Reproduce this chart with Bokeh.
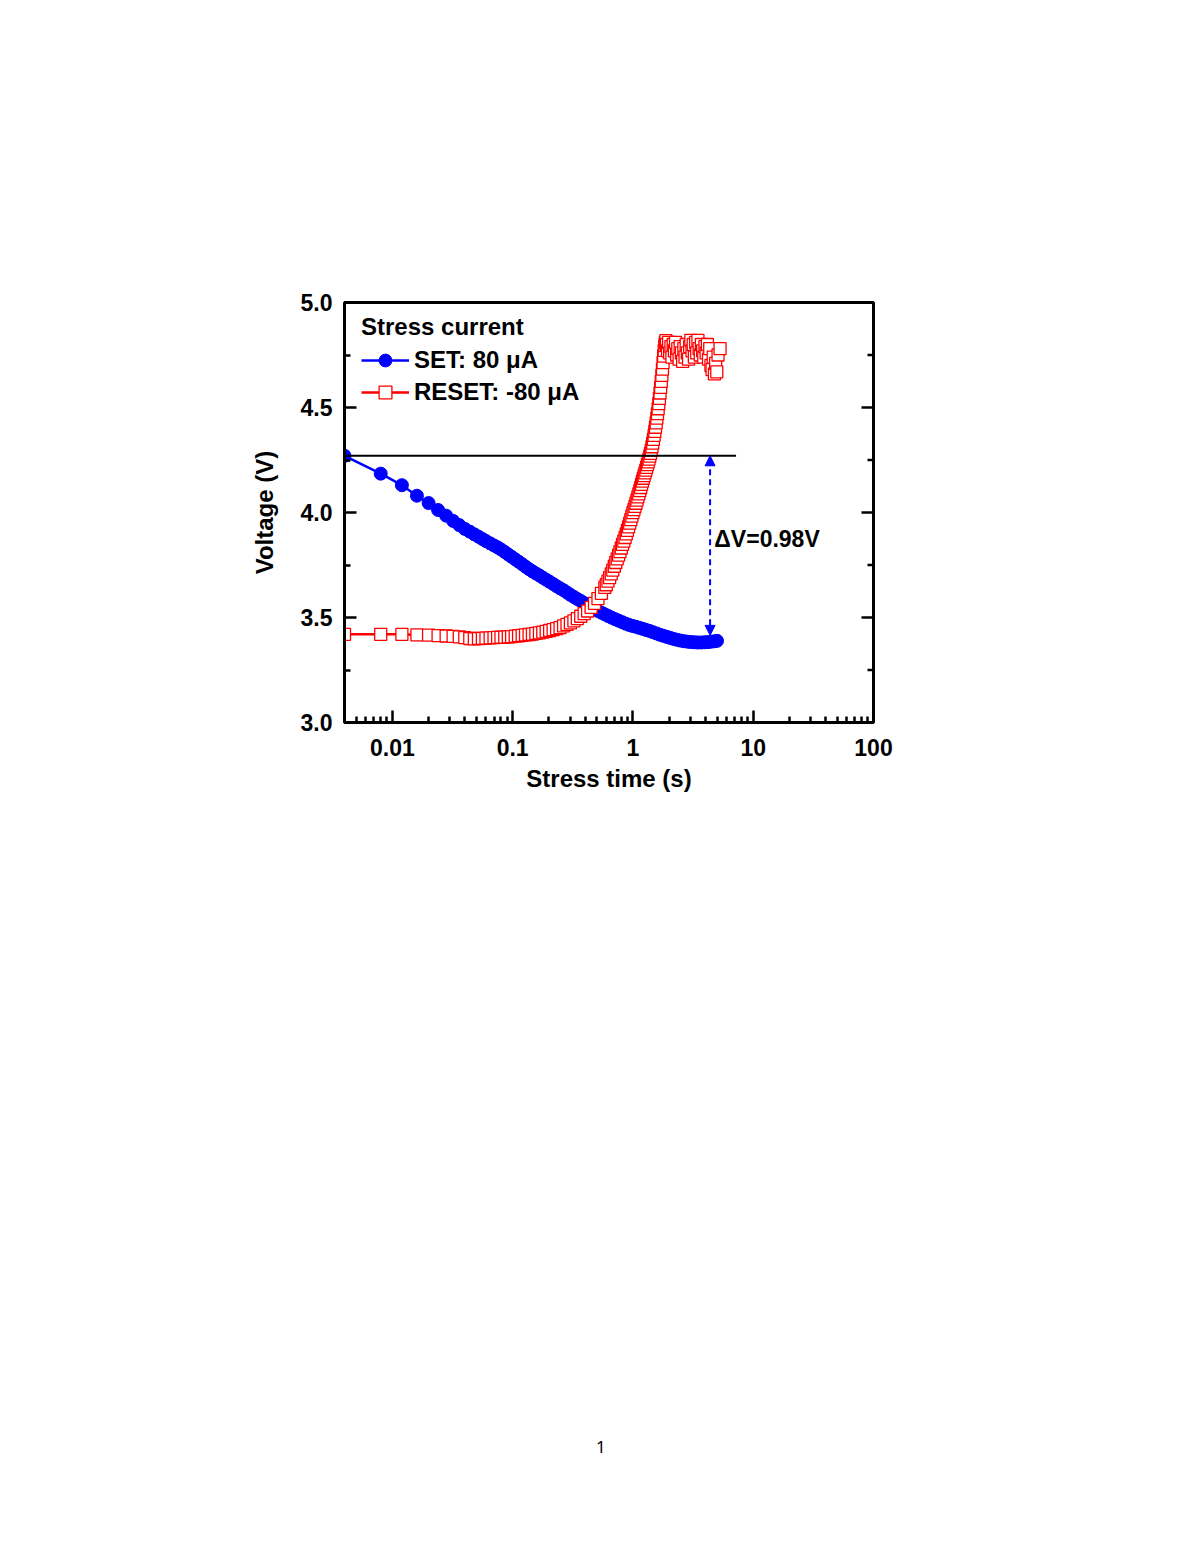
import numpy as np
from bokeh.plotting import figure
from bokeh.layouts import column
from bokeh.models import (Range1d, FixedTicker, Legend, LegendItem,
                          Label, Arrow, NormalHead, Div)
from bokeh.embed import file_html
from bokeh.resources import INLINE

# ---------------- data ----------------
set_t = [0.004, 0.008, 0.012, 0.016, 0.020, 0.024, 0.028, 0.032, 0.036, 0.040,
         0.044, 0.048, 0.052, 0.056, 0.060, 0.065, 0.070, 0.075, 0.080, 0.086,
         0.092, 0.098, 0.105, 0.112, 0.120, 0.128, 0.137, 0.146, 0.156, 0.167,
         0.178, 0.190, 0.203, 0.217, 0.232, 0.248, 0.265, 0.283, 0.302, 0.323,
         0.345, 0.368, 0.393, 0.420, 0.449, 0.479, 0.512, 0.547, 0.584, 0.624,
         0.666, 0.712, 0.760, 0.812, 0.867, 0.926, 0.989, 1.056, 1.128, 1.205,
         1.287, 1.374, 1.468, 1.568, 1.674, 1.788, 1.910, 2.040, 2.178, 2.326,
         2.485, 2.654, 2.834, 3.027, 3.233, 3.453, 3.688, 3.938, 4.206, 4.492,
         4.798, 5.000]
set_v = [4.270, 4.185, 4.130, 4.080, 4.045, 4.012, 3.985, 3.960, 3.940, 3.922,
         3.909, 3.896, 3.885, 3.874, 3.864, 3.853, 3.843, 3.834, 3.824, 3.812,
         3.800, 3.789, 3.777, 3.766, 3.754, 3.742, 3.730, 3.720, 3.710, 3.700,
         3.690, 3.680, 3.670, 3.660, 3.649, 3.639, 3.630, 3.619, 3.608, 3.598,
         3.588, 3.579, 3.569, 3.558, 3.548, 3.539, 3.531, 3.523, 3.515, 3.507,
         3.499, 3.492, 3.485, 3.478, 3.471, 3.465, 3.460, 3.456, 3.451, 3.446,
         3.441, 3.436, 3.430, 3.424, 3.418, 3.413, 3.408, 3.403, 3.398, 3.394,
         3.390, 3.387, 3.385, 3.383, 3.382, 3.381, 3.381, 3.382, 3.383, 3.385,
         3.387, 3.389]

reset_t = [0.004, 0.008, 0.012, 0.016, 0.020, 0.024, 0.028, 0.032, 0.036, 0.040,
           0.044, 0.048, 0.052, 0.056, 0.060, 0.065, 0.070, 0.075, 0.080, 0.086,
           0.092, 0.098, 0.105, 0.112, 0.120, 0.128, 0.137, 0.146, 0.156, 0.167,
           0.178, 0.190, 0.203, 0.217, 0.232, 0.248, 0.265, 0.283, 0.302, 0.323,
           0.345, 0.368, 0.393, 0.420, 0.449, 0.479, 0.512, 0.547, 0.584,
           0.60, 0.62, 0.64, 0.66, 0.68, 0.70, 0.72, 0.74, 0.76, 0.78,
           0.80, 0.82, 0.84, 0.86, 0.88, 0.90, 0.92, 0.94, 0.96, 0.98,
           1.00, 1.02, 1.04, 1.06, 1.08, 1.10, 1.12, 1.14, 1.16, 1.18,
           1.20, 1.22, 1.24, 1.26, 1.28, 1.30, 1.32, 1.34, 1.36, 1.38,
           1.40, 1.42, 1.44, 1.46, 1.48, 1.50, 1.52, 1.54, 1.56, 1.58,
           1.60, 1.62, 1.64, 1.66, 1.68, 1.70, 1.72, 1.74, 1.76, 1.78,
           1.80, 1.82, 1.84, 1.86, 1.88,
           1.90, 1.94, 1.98, 2.02, 2.07, 2.11, 2.16, 2.21, 2.26, 2.31,
           2.36, 2.42, 2.47, 2.53, 2.59, 2.65, 2.71, 2.77, 2.83, 2.90,
           2.96, 3.03, 3.10, 3.17, 3.24, 3.32, 3.39, 3.47, 3.55, 3.63,
           3.71, 3.80, 3.88, 3.97, 4.06, 4.16, 4.25, 4.35, 4.45, 4.55,
           4.65, 4.76, 4.87, 4.98, 5.10, 5.30]
reset_v = [3.420, 3.420, 3.420, 3.417, 3.416, 3.414, 3.412, 3.410, 3.408, 3.404,
           3.400, 3.398, 3.400, 3.401, 3.402, 3.403, 3.404, 3.405, 3.406, 3.407,
           3.408, 3.409, 3.411, 3.413, 3.415, 3.417, 3.419, 3.421, 3.424, 3.427,
           3.430, 3.434, 3.438, 3.442, 3.447, 3.452, 3.460, 3.467, 3.474, 3.484,
           3.495, 3.506, 3.518, 3.531, 3.548, 3.567, 3.590, 3.615, 3.643,
           3.656, 3.673, 3.690, 3.708, 3.726, 3.744, 3.762, 3.779, 3.797, 3.814,
           3.831, 3.848, 3.864, 3.881, 3.898, 3.915, 3.932, 3.949, 3.966, 3.983,
           3.999, 4.014, 4.029, 4.044, 4.059, 4.074, 4.089, 4.104, 4.119, 4.134,
           4.149, 4.163, 4.176, 4.189, 4.202, 4.215, 4.228, 4.241, 4.254, 4.268,
           4.282, 4.297, 4.313, 4.330, 4.348, 4.367, 4.386, 4.406, 4.427, 4.449,
           4.471, 4.494, 4.518, 4.543, 4.569, 4.596, 4.624, 4.653, 4.683, 4.714,
           4.745, 4.772, 4.795, 4.810, 4.818,
           4.80, 4.77, 4.81, 4.76, 4.79, 4.74, 4.80, 4.77, 4.81, 4.75,
           4.78, 4.73, 4.79, 4.76, 4.72, 4.78, 4.74, 4.80, 4.76, 4.73,
           4.79, 4.82, 4.77, 4.80, 4.74, 4.81, 4.76, 4.82, 4.78, 4.75,
           4.80, 4.77, 4.74, 4.79, 4.76, 4.80, 4.73, 4.78, 4.70, 4.68,
           4.74, 4.66, 4.71, 4.67, 4.75, 4.78]

# reference level, delta-V marker and its label
v_ref = 4.27
ref_line_t = [0.004, 7.2]
dv_t = 4.38
dv_v_low = 3.415
dv_text = "\u0394V=0.98V"
dv_text_t = 4.75
dv_text_v = 3.876

# axes
x_start, x_end = 0.004, 100
y_start, y_end = 3.0, 5.0
x_ticks = [0.01, 0.1, 1, 10, 100]
x_tick_labels = ["0.01", "0.1", "1", "10", "100"]
x_minor_ticks = [0.004, 0.005, 0.006, 0.007, 0.008, 0.009,
                 0.02, 0.03, 0.04, 0.05, 0.06, 0.07, 0.08, 0.09,
                 0.2, 0.3, 0.4, 0.5, 0.6, 0.7, 0.8, 0.9,
                 2, 3, 4, 5, 6, 7, 8, 9,
                 20, 30, 40, 50, 60, 70, 80, 90]
y_ticks = [3.0, 3.5, 4.0, 4.5, 5.0]
y_tick_labels = ["3.0", "3.5", "4.0", "4.5", "5.0"]
y_minor_ticks = [3.25, 3.75, 4.25, 4.75]

x_title = "Stress time (s)"
y_title = "Voltage (V)"
legend_title = "Stress current"
set_label = "SET: 80 \u03bcA"
reset_label = "RESET: -80 \u03bcA"
page_number = "1"

# ---------------- figure ----------------
FONT = "Liberation Sans"
BLUE = "#0000FF"
RED = "#FF0000"

W, H = 1184, 1430
FL, FT, FR, FB = 344, 302, 873, 722   # frame edges on the page
p = figure(width=W, height=H, output_backend="svg", toolbar_location=None,
           x_axis_type="log",
           x_range=Range1d(x_start, x_end), y_range=Range1d(y_start, y_end),
           min_border_left=FL, min_border_right=W - FR,
           min_border_top=FT, min_border_bottom=H - FB)
p.background_fill_color = "white"
p.border_fill_color = "white"
p.outline_line_color = "black"
p.outline_line_width = 3
p.xgrid.visible = False
p.ygrid.visible = False

# main axes
xa = p.xaxis[0]
xa.ticker = FixedTicker(ticks=x_ticks, minor_ticks=x_minor_ticks)
xa.major_label_overrides = dict(zip(x_ticks, x_tick_labels))
ya = p.yaxis[0]
ya.ticker = FixedTicker(ticks=y_ticks, minor_ticks=y_minor_ticks)
ya.major_label_overrides = dict(zip(y_ticks, y_tick_labels))

for ax in (xa, ya):
    ax.axis_line_width = 3
    ax.axis_line_color = "black"
    ax.major_tick_in = 12
    ax.major_tick_out = 0
    ax.minor_tick_in = 6
    ax.minor_tick_out = 0
    ax.major_tick_line_width = 2.5
    ax.minor_tick_line_width = 2.5
    ax.major_tick_line_color = "black"
    ax.minor_tick_line_color = "black"
    ax.major_label_text_font = FONT
    ax.major_label_text_font_style = "bold"
    ax.major_label_text_font_size = "23px"
    ax.major_label_text_color = "black"
    ax.axis_label_text_font = FONT
    ax.axis_label_text_font_style = "bold"
    ax.axis_label_text_font_size = "24px"
    ax.axis_label_text_color = "black"

xa.axis_label = x_title
xa.major_label_standoff = 16
xa.axis_label_standoff = 6
ya.axis_label = y_title
ya.major_label_standoff = 12
ya.axis_label_standoff = 20

# right-hand ticks (no labels), drawn inward from the right frame edge
p.ray(x=[x_end] * len(y_ticks), y=y_ticks, length=12, length_units="screen",
      angle=np.pi, line_color="black", line_width=2.5)
p.ray(x=[x_end] * len(y_minor_ticks), y=y_minor_ticks, length=6, length_units="screen",
      angle=np.pi, line_color="black", line_width=2.5)

# SET series
set_line = p.line(set_t, set_v, line_color=BLUE, line_width=2.5)
set_pts = p.scatter(set_t, set_v, marker="circle", size=13,
                    fill_color=BLUE, line_color=BLUE, line_width=1)

# RESET series
reset_line = p.line(reset_t, reset_v, line_color=RED, line_width=2.5)
reset_pts = p.scatter(reset_t, reset_v, marker="square", size=12,
                      fill_color="white", line_color=RED, line_width=1.3)

# reference line (on top of the series)
p.line(x=ref_line_t, y=[v_ref, v_ref], line_color="black", line_width=2)

# delta V arrow
arrow = Arrow(x_start=dv_t, y_start=dv_v_low, x_end=dv_t, y_end=v_ref,
              line_color=BLUE, line_width=2, line_dash="6 4",
              start=NormalHead(size=10, fill_color=BLUE, line_color=BLUE, line_width=1),
              end=NormalHead(size=10, fill_color=BLUE, line_color=BLUE, line_width=1))
p.add_layout(arrow)

p.add_layout(Label(x=dv_text_t, y=dv_text_v, text=dv_text,
                   text_font=FONT, text_font_style="bold", text_font_size="23px",
                   text_color="black", text_align="left", text_baseline="middle"))

# legend
legend = Legend(items=[LegendItem(label=set_label, renderers=[set_line, set_pts]),
                       LegendItem(label=reset_label, renderers=[reset_line, reset_pts])],
                location=(17, 314), title=legend_title,
                title_text_font=FONT, title_text_font_style="bold",
                title_text_font_size="24px", title_text_color="black",
                title_standoff=3,
                label_text_font=FONT, label_text_font_style="bold",
                label_text_font_size="24px", label_text_color="black",
                glyph_width=48, glyph_height=32, label_height=32, spacing=0,
                label_standoff=5, padding=0, margin=0,
                border_line_alpha=0, background_fill_alpha=0)
p.add_layout(legend)

# page number below the chart
page_div = Div(text=f'<span style="font-family: \'Noto Sans\', sans-serif; '
                    f'font-size: 17px; line-height: 24px; color: black;">{page_number}</span>',
               width=W, height=34,
               styles={"padding-left": "591px", "box-sizing": "border-box",
                       "line-height": "24px"})

layout = column(p, page_div, spacing=0)
open("out.html", "w").write(file_html(layout, INLINE))
